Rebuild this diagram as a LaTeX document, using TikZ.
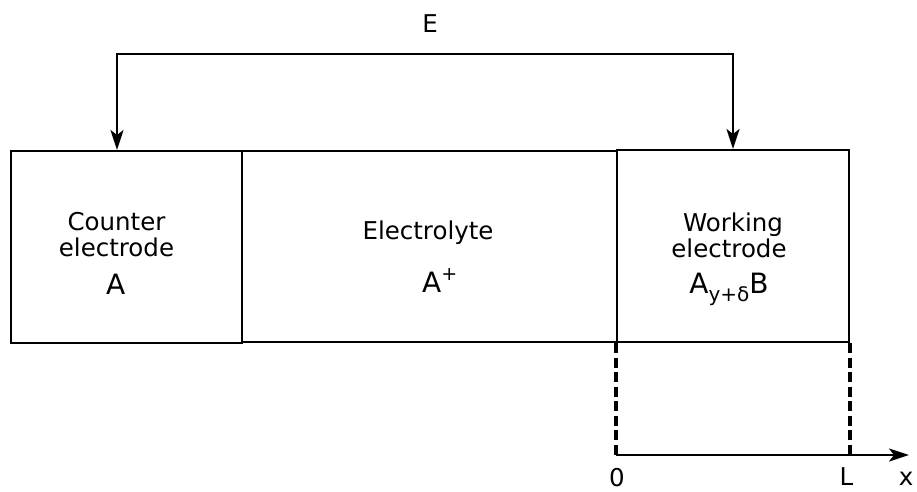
\documentclass[tikz,border=0pt]{standalone}
\usepackage{fontspec}
\setmainfont{DejaVu Sans}
\usetikzlibrary{arrows.meta}
\newcommand{\wrd}{\fontsize{24.5}{27}\selectfont}
\newcommand{\frm}{\fontsize{28}{31}\selectfont}
\begin{document}
\begin{tikzpicture}[x=1pt,y=-1pt,
  >={Stealth[length=20pt,width=13pt,inset=5pt]},
  cell/.style={draw,line width=2pt,inner sep=0pt,anchor=north west},
  wire/.style={line width=2.3pt},
  dline/.style={line width=3.2pt,dash pattern=on 10pt off 4.5pt},
  word/.style={font=\wrd,inner sep=0pt,anchor=base},
  formula/.style={font=\frm,inner sep=0pt,anchor=base}]
\useasboundingbox (0,0) rectangle (917,491);
% boxes
\node[cell,minimum width=231pt,minimum height=192pt] (ce) at (10,150) {};
\node[cell,minimum width=375pt,minimum height=191pt] (el) at (241,150) {};
\node[cell,minimum width=232pt,minimum height=192pt] (we) at (616,149) {};
% texts
\node[word] (ce1) at (116.5,230) {Counter};
\node[word] (ce2) at (116.5,256) {electrode};
\node[formula,anchor=base west] (ce3) at (106,294) {A};
\node[word] (el1) at (428,239) {Electrolyte};
\node[formula,anchor=base west] (el2) at (422,292) {A\raisebox{12pt}{\fontsize{19}{19}\selectfont +}};
\node[word] (we1) at (733,231) {Working};
\node[word] (we2) at (729,257) {electrode};
\node[formula] (we3) at (729,293) {A\raisebox{-8pt}{\fontsize{20}{20}\selectfont y+δ}B};
% wire
\coordinate (ltop) at (117,54);
\coordinate (rtop) at (733,54);
\node[word,anchor=center] (E) at (430,24) {E};
\draw[wire,<->] (ltop |- ce.north) -- (ltop) -- (rtop) -- (rtop |- we.north);
% axis
\coordinate (o) at (616,455);
\coordinate (xend) at (909,455);
\draw[dline] (we.south west) -- (o);
\draw[dline] (we.south east) -- (we.south east |- o);
\draw[wire,->] (o) -- (xend);
\node[word] (zero) at (617,486) {0};
\node[word] (Lab) at (846.5,485) {L};
\node[word] (xlab) at (906,485) {x};
\end{tikzpicture}
\end{document}
